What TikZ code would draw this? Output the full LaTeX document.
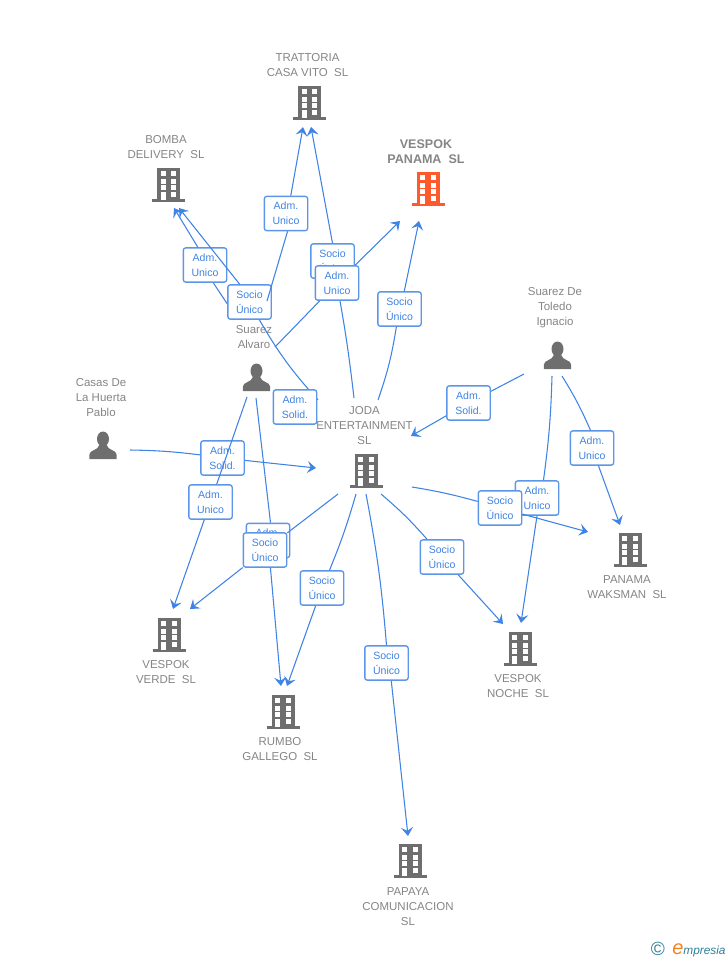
\documentclass[tikz,border=0pt]{standalone}
\usepackage{fontspec}
\setmainfont{Liberation Sans}
\usetikzlibrary{arrows.meta}
\definecolor{linkblue}{HTML}{3F83E4}
\definecolor{boxblue}{HTML}{5C96E8}
\definecolor{icongray}{HTML}{6E6E6E}
\definecolor{iconorange}{HTML}{FF5A2B}
\definecolor{namegray}{HTML}{858585}
\definecolor{logoteal}{HTML}{2F7F9A}
\definecolor{logoorange}{HTML}{F58220}
\begin{document}
\begin{tikzpicture}[x=.75pt,y=-.75pt,
    link/.style={draw=linkblue,line width=.8pt},
    headlink/.style={link,-{Stealth[length=6.5pt,width=9pt,inset=2.6pt]}},
    relbox/.style={draw=boxblue,line width=1pt,fill=white,rounded corners=1.8pt,inner sep=0pt,
        minimum width=32.5pt,minimum height=25.7pt,align=center,text=linkblue,
        font=\fontsize{7.9}{11.25}\selectfont,execute at begin node={\rule{0pt}{8pt}}},
    nametext/.style={align=center,text=namegray,font=\fontsize{8.6}{11.25}\selectfont},
    bigtext/.style={align=center,text=namegray,font=\fontsize{9.4}{11.25}\selectfont\bfseries},
    bldg/.style={inner sep=0pt,minimum width=25.5pt,minimum height=25.5pt,path picture={
        \begin{scope}[shift={(path picture bounding box.center)}]
            \fill[#1] (-11.5,-17) rectangle (11.5,14);
            \fill[#1] (-16.5,13.8) rectangle (16.5,17);
            \foreach \wy in {-13.7,-6.3,.3} {
                \fill[white] (-7.6,\wy) rectangle ++(5,4.8);
                \fill[white] (2.6,\wy) rectangle ++(5,4.8);
            }
            \fill[white] (-7.6,7) rectangle (-2.6,15);
            \fill[white] (2.6,7) rectangle (7.6,12);
        \end{scope}}},
    person/.style={inner sep=0pt,minimum width=21pt,minimum height=21pt,path picture={
        \begin{scope}[shift={(path picture bounding box.center)}]
            \fill[icongray] (0,-6) ellipse (6 and 7.5);
            \fill[icongray] (-13.6,14) -- (-13.6,9.5) .. controls (-13.6,5) and (-5,5.5) .. (-3.6,0)
                -- (3.6,0) .. controls (5,5.5) and (13.6,5) .. (13.6,9.5) -- (13.6,14) -- cycle;
        \end{scope}}}]
    \useasboundingbox (0,0) rectangle (728,960);

    \node[bldg=icongray] (trattoria) at (309.5,103) {};
    \node[bldg=icongray] (bomba) at (168.5,185) {};
    \node[bldg=iconorange] (panama) at (428,189) {};
    \node[bldg=icongray] (joda) at (366,471) {};
    \node[bldg=icongray] (waksman) at (630,550) {};
    \node[bldg=icongray] (verde) at (169,635) {};
    \node[bldg=icongray] (rumbo) at (283,712) {};
    \node[bldg=icongray] (noche) at (520,649) {};
    \node[bldg=icongray] (papaya) at (410,861) {};
    \node[person] (toledo) at (557.5,355) {};
    \node[person] (alvaro) at (256.5,377) {};
    \node[person] (casas) at (103,445) {};

    \node[nametext] (trattorianame) at (307.5,65.5) {TRATTORIA\\CASA VITO~~SL};
    \node[nametext] (bombaname) at (166,147.5) {BOMBA\\DELIVERY~~SL};
    \node[bigtext] (panamaname) at (426,151.5) {VESPOK\\PANAMA~~SL};
    \node[nametext] (jodaname) at (364.5,426) {JODA\\ENTERTAINMENT\\SL};
    \node[nametext] (waksmanname) at (627,587.5) {PANAMA\\WAKSMAN~~SL};
    \node[nametext] (verdename) at (166,672.5) {VESPOK\\VERDE~~SL};
    \node[nametext] (rumboname) at (280,749.5) {RUMBO\\GALLEGO~~SL};
    \node[nametext] (nochename) at (518,686.5) {VESPOK\\NOCHE~~SL};
    \node[nametext] (papayaname) at (408,907) {PAPAYA\\COMUNICACION\\SL};
    \node[nametext] (toledoname) at (555,308) {Suarez De\\Toledo\\Ignacio};
    \node[nametext] (alvaroname) at (254,337.5) {Suarez\\Alvaro};
    \node[nametext] (casasname) at (101,398) {Casas De\\La Huerta\\Pablo};

    \coordinate (alvarobomba) at (228,305);
    \coordinate (bombahead) at (174,208);
    \node[relbox] (admbomba) at (205,265) {Adm.\\Unico};
    \draw[link] (alvarobomba) -- (admbomba.-65);
    \draw[headlink] (admbomba.112) -- (bombahead);

    \coordinate (jodabomba) at (318,400);
    \coordinate (bombahead2) at (179,208);
    \node[relbox] (sociobomba) at (249.5,302) {Socio\\Único};
    \draw[link] (jodabomba) to[bend left=6] (sociobomba);
    \draw[headlink] (sociobomba.119) -- (bombahead2);

    \coordinate (alvarotrat) at (267,301);
    \coordinate (trathead) at (303,127);
    \node[relbox] (admtrat) at (286,213.5) {Adm.\\Unico};
    \draw[link] (alvarotrat) -- (admtrat.-85);
    \draw[headlink] (admtrat.75) -- (trathead);

    \coordinate (jodatrat) at (354,398);
    \coordinate (trathead2) at (311,127);
    \node[relbox] (sociotrat) at (332.5,261) {Socio\\Único};
    \draw[link] (jodatrat) to[bend right=2] (sociotrat);
    \draw[headlink] (sociotrat.north) -- (trathead2);

    \coordinate (alvaropan) at (275,347);
    \coordinate (panhead) at (400,221);
    \node[relbox] (admpan) at (337,283) {Adm.\\Unico};
    \draw[link] (alvaropan) -- (admpan);
    \draw[headlink] (admpan) -- (panhead);

    \coordinate (jodapan) at (378,400);
    \coordinate (panhead2) at (419,221);
    \node[relbox] (sociopan) at (399.5,309) {Socio\\Único};
    \draw[link] (jodapan) to[bend right=5] (sociopan.-100);
    \draw[headlink] (sociopan.75) -- (panhead2);

    \node[relbox] (solidjoda) at (295,407) {Adm.\\Solid.};

    \coordinate (casasjoda) at (130,450);
    \coordinate (jodahead) at (316,468);
    \node[relbox] (solidcasas) at (222.5,458) {Adm.\\Solid.};
    \draw[link] (casasjoda) to[bend left=3] (solidcasas);
    \draw[headlink] (solidcasas) -- (jodahead);

    \coordinate (alvaroverde) at (247,397);
    \coordinate (verdehead) at (173,609);
    \node[relbox] (admverde) at (210.5,502) {Adm.\\Unico};
    \draw[link] (alvaroverde) -- (admverde);
    \draw[headlink] (admverde) -- (verdehead);

    \coordinate (alvarorumbo) at (256,398);
    \coordinate (rumbohead) at (281,686);
    \node[relbox] (admrumbo) at (268,540.5) {Adm.\\Unico};
    \draw[link] (alvarorumbo) -- (admrumbo.82);
    \draw[headlink] (admrumbo) -- (rumbohead);

    \coordinate (jodaverde) at (338,494);
    \coordinate (verdehead2) at (190,609);
    \node[relbox] (socioverde) at (265,550) {Socio\\Único};
    \draw[link] (jodaverde) -- (socioverde);
    \draw[headlink] (socioverde) -- (verdehead2);

    \coordinate (jodarumbo) at (356,494);
    \coordinate (rumbohead2) at (287,686);
    \node[relbox] (sociorumbo) at (322,588) {Socio\\Único};
    \draw[link] (jodarumbo) to[bend left=3] (sociorumbo);
    \draw[headlink] (sociorumbo) -- (rumbohead2);

    \coordinate (jodapapaya) at (366,494);
    \coordinate (papayahead) at (408,836);
    \node[relbox] (sociopapaya) at (386.5,663) {Socio\\Único};
    \draw[link] (jodapapaya) to[bend left=3] (sociopapaya.north);
    \draw[headlink] (sociopapaya.-75) -- (papayahead);

    \coordinate (jodanoche) at (381,494);
    \coordinate (nochehead) at (503,624);
    \node[relbox] (socionoche) at (442,557) {Socio\\Único};
    \draw[link] (jodanoche) to[bend left=4] (socionoche);
    \draw[headlink] (socionoche) -- (nochehead);

    \coordinate (toledojoda) at (524,374);
    \coordinate (jodahead2) at (411,436);
    \node[relbox] (solidtoledo) at (468.5,403) {Adm.\\Solid.};
    \draw[link] (toledojoda) -- (solidtoledo);
    \draw[headlink] (solidtoledo) -- (jodahead2);

    \coordinate (toledowaks) at (562,376);
    \coordinate (waksmanhead) at (620,525);
    \node[relbox] (admwaks) at (592,448) {Adm.\\Unico};
    \draw[link] (toledowaks) to[bend left=4] (admwaks.95);
    \draw[headlink] (admwaks) -- (waksmanhead);

    \coordinate (toledonoche) at (552,376);
    \coordinate (nochehead2) at (521,623);
    \node[relbox] (admnoche) at (537,498) {Adm.\\Unico};
    \draw[link] (toledonoche) to[bend left=3] (admnoche.70);
    \draw[headlink] (admnoche.south) -- (nochehead2);

    \coordinate (jodawaks) at (412,487);
    \coordinate (waksmanhead2) at (588,532);
    \node[relbox] (sociowaks) at (500,508) {Socio\\Único};
    \draw[link] (jodawaks) to[bend left=3] (sociowaks);
    \draw[headlink] (sociowaks) -- (waksmanhead2);

    \node[text=logoteal,inner sep=0pt,font=\fontsize{14.3}{14.3}\selectfont] (logoc) at (658,949) {©};
    \node[inner sep=0pt,anchor=base west,font=\fontsize{8.9}{10}\selectfont\itshape] (logotext) at (672,954)
        {\textcolor{logoorange}{\fontsize{15}{15}\selectfont e}\textcolor{logoteal}{mpresia}};
\end{tikzpicture}
\end{document}
